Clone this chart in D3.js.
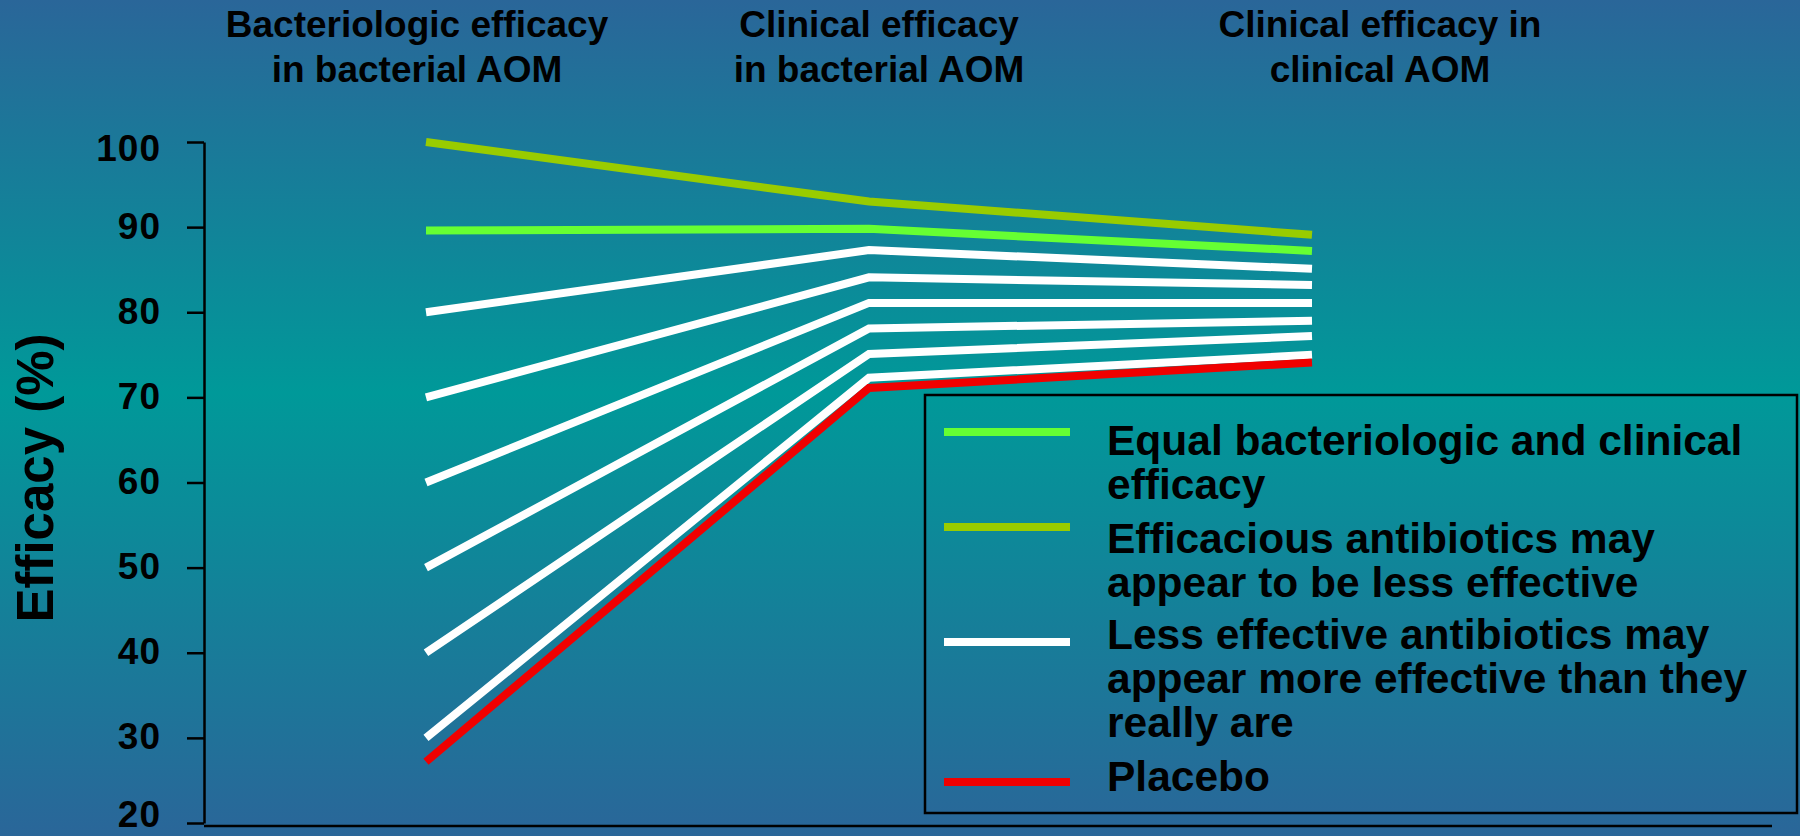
<!DOCTYPE html>
<html>
    <head>
        <meta charset="utf-8">
        <title>Efficacy</title>
        <style>
            body { margin: 0; }
            svg { display: block; }
            text { font-family: "Liberation Sans", Arial, sans-serif; font-weight: bold; fill: #000; }
            .series path { fill: none; stroke-width: 8; stroke-linecap: butt; stroke-linejoin: miter; }
        </style>
    </head>
    <body>
        <svg width="1800" height="836"></svg>

        <script src="https://d3js.org/d3.v7.min.js"></script>
        <script>
            // data
            var categories = ["Bacteriologic efficacy in bacterial AOM", "Clinical efficacy in bacterial AOM", "Clinical efficacy in clinical AOM"];
            var categoryLines = [
                ["Bacteriologic efficacy", "in bacterial AOM"],
                ["Clinical efficacy", "in bacterial AOM"],
                ["Clinical efficacy in", "clinical AOM"]
            ];
            var yTicks = [20, 30, 40, 50, 60, 70, 80, 90, 100];

            var equalEfficacy = [89.6, 89.8, 87.2];
            var lessEffectiveLooking = [100, 93, 89.1];
            var moreEffectiveLooking = [
                [80, 87.3, 85.1],
                [70, 84.1, 83.2],
                [60, 81.1, 81.1],
                [50, 78.1, 79.0],
                [40, 75.1, 77.2],
                [30, 72.3, 75.0]
            ];
            var placebo = [27.2, 71.1, 74.1];

            var legendLabels = [
                ["Equal bacteriologic and clinical", "efficacy"],
                ["Efficacious antibiotics may", "appear to be less effective"],
                ["Less effective antibiotics may", "appear more effective than they", "really are"],
                ["Placebo"]
            ];
            var legendColors = ["#66ff33", "#99cc00", "#ffffff", "#f00000"];

            var svg = d3.select("svg"),
                width = +svg.attr("width"),
                height = +svg.attr("height");

            // background gradient
            var grad = svg.append("defs").append("linearGradient")
                .attr("id", "bg")
                .attr("x1", 0).attr("y1", 0).attr("x2", 0).attr("y2", 1);
            grad.append("stop").attr("offset", "0%").attr("stop-color", "#2a6699");
            grad.append("stop").attr("offset", "47%").attr("stop-color", "#009999");
            grad.append("stop").attr("offset", "100%").attr("stop-color", "#2a6699");

            svg.append("rect")
                .attr("width", width)
                .attr("height", height)
                .attr("fill", "url(#bg)");

            var x = d3.scalePoint().domain(categories).range([426, 1312]);
            var y = d3.scaleLinear().domain([20, 100]).range([823, 142]);

            // titles over the columns
            var titleX = [417, 879, 1380];
            var titles = svg.append("g").selectAll("text")
                .data(categoryLines)
                .enter()
                .append("text")
                .attr("text-anchor", "middle")
                .style("font-size", "37px");
            titles.each(function(lines, k) {
                d3.select(this).selectAll("tspan")
                    .data(lines)
                    .enter()
                    .append("tspan")
                    .attr("x", titleX[k])
                    .attr("y", function(d, i) { return 37 + i * 45; })
                    .text(function(d) { return d; });
            });

            // y axis
            var yAxis = d3.axisLeft(y)
                .tickValues(yTicks)
                .tickSize(17)
                .tickSizeOuter(0)
                .tickPadding(26);

            var gy = svg.append("g")
                .attr("transform", "translate(204,0)")
                .call(yAxis);
            gy.attr("font-family", null).attr("font-size", null);
            gy.selectAll("path, line").attr("stroke", "#000").attr("stroke-width", 2.5);
            gy.selectAll("text")
                .style("font-size", "37px")
                .style("letter-spacing", "1px")
                .attr("fill", "#000")
                .attr("dy", function(d) { return d === 100 ? "0.5em" : d === 20 ? "0.1em" : "0.3em"; });

            // x axis baseline
            svg.append("line")
                .attr("x1", 204).attr("x2", 1772)
                .attr("y1", 826).attr("y2", 826)
                .attr("stroke", "#000")
                .attr("stroke-width", 2.5);

            svg.append("text")
                .attr("transform", "translate(53,478) rotate(-90)")
                .attr("text-anchor", "middle")
                .style("font-size", "51px")
                .text("Efficacy (%)");

            var line = d3.line()
                .x(function(d, i) { return x(categories[i]); })
                .y(function(d) { return y(d); });

            var series = svg.append("g").attr("class", "series");

            series.selectAll(".white")
                .data(moreEffectiveLooking)
                .enter()
                .append("path")
                .attr("class", "white")
                .attr("d", line)
                .attr("stroke", legendColors[2]);

            series.append("path").attr("d", line(equalEfficacy)).attr("stroke", legendColors[0]);
            series.append("path").attr("d", line(lessEffectiveLooking)).attr("stroke", legendColors[1]);
            series.append("path").attr("d", line(placebo)).attr("stroke", legendColors[3]);

            // legend
            var legend = svg.append("g");
            legend.append("rect")
                .attr("x", 925).attr("y", 395)
                .attr("width", 872).attr("height", 418)
                .attr("fill", "none")
                .attr("stroke", "#000")
                .attr("stroke-width", 2.5);

            var entryTop = [455, 552.5, 649.3, 790.7];
            var swatchY = [432, 527, 642, 782];

            var item = legend.selectAll(".item")
                .data(legendLabels)
                .enter()
                .append("g")
                .attr("class", "item");

            item.append("line")
                .attr("x1", 944).attr("x2", 1070)
                .attr("y1", function(d, i) { return swatchY[i]; })
                .attr("y2", function(d, i) { return swatchY[i]; })
                .attr("stroke", function(d, i) { return legendColors[i]; })
                .attr("stroke-width", 8);

            item.append("text")
                .style("font-size", "42.5px")
                .attr("y", function(d, i) { return entryTop[i]; })
                .selectAll("tspan")
                .data(function(d) { return d; })
                .enter()
                .append("tspan")
                .attr("x", 1107)
                .attr("dy", function(d, i) { return i === 0 ? 0 : 44; })
                .text(function(d) { return d; });
        </script>
    </body>
</html>
